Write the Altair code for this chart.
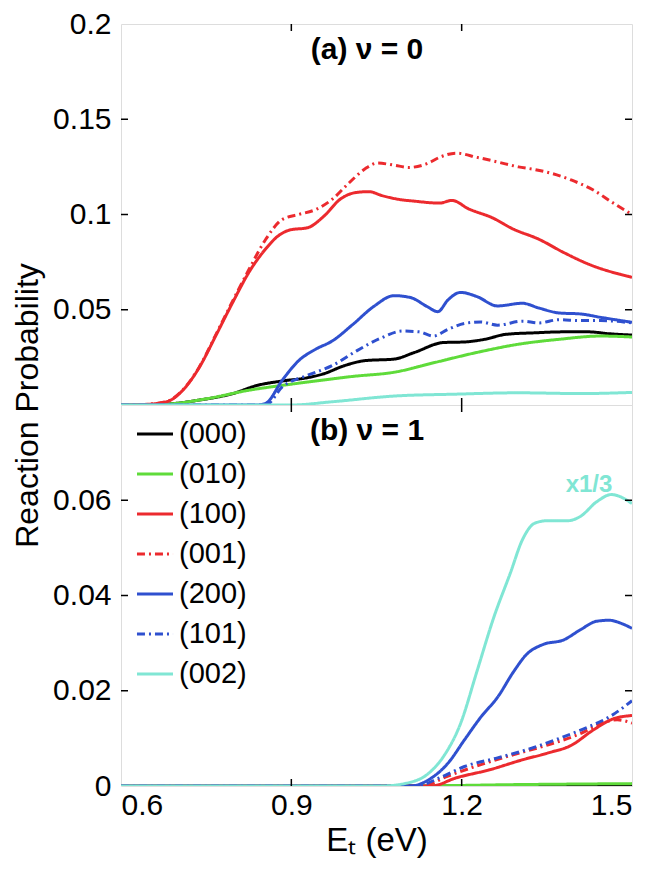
import altair as alt
import pandas as pd

FONT = "Liberation Sans"

SERIES = ["(000)", "(010)", "(100)", "(001)", "(200)", "(101)", "(002)"]
COLORS = ["#000000", "#5fdb3a", "#ec2a2e", "#ec2a2e", "#2f50cf", "#2f50cf", "#80e6d4"]
DASHES = [[1, 0], [1, 0], [1, 0], [8, 4, 2, 4], [1, 0], [8, 4, 2, 4], [1, 0]]

XTICKS = [0.6, 0.9, 1.2, 1.5]
XINNER = [0.9, 1.2]
YTICKS_A = [0.05, 0.1, 0.15, 0.2]
YINNER_A = [0.05, 0.1, 0.15]
YTICKS_B = [0, 0.02, 0.04, 0.06]
YINNER_B = [0.02, 0.04, 0.06]

# ---- panel (a) v = 0 ----
A000_E = [0.6, 0.68, 0.738, 0.797, 0.84, 0.884, 0.928, 0.957, 0.994, 1.03, 1.081, 1.117, 1.168, 1.205, 1.241, 1.278, 1.329, 1.38, 1.423, 1.46, 1.5]
A000_P = [0, 0.0005, 0.0026, 0.006, 0.0103, 0.0126, 0.0143, 0.0164, 0.0207, 0.0233, 0.0241, 0.0276, 0.0328, 0.0331, 0.0345, 0.0371, 0.0379, 0.0384, 0.0384, 0.0374, 0.0367]
A010_E = [0.6, 0.68, 0.753, 0.826, 0.884, 0.943, 1.008, 1.081, 1.154, 1.227, 1.3, 1.372, 1.445, 1.5]
A010_P = [0, 0.0005, 0.0034, 0.0078, 0.0103, 0.0126, 0.015, 0.0172, 0.0224, 0.0276, 0.0319, 0.0345, 0.0362, 0.0357]
A100_E = [0.6, 0.636, 0.68, 0.709, 0.738, 0.768, 0.797, 0.826, 0.855, 0.877, 0.899, 0.928, 0.957, 0.986, 1.015, 1.037, 1.059, 1.088, 1.117, 1.161, 1.183, 1.212, 1.256, 1.289, 1.336, 1.38, 1.423, 1.5]
A100_P = [0, 0.0002, 0.0017, 0.0078, 0.0198, 0.037, 0.054, 0.070, 0.082, 0.0888, 0.092, 0.093, 0.099, 0.108, 0.1116, 0.112, 0.110, 0.108, 0.107, 0.106, 0.1074, 0.103, 0.098, 0.0926, 0.087, 0.080, 0.074, 0.067]
A001_E = [0.6, 0.636, 0.68, 0.709, 0.738, 0.768, 0.797, 0.826, 0.855, 0.884, 0.913, 0.943, 0.972, 1.001, 1.03, 1.052, 1.081, 1.107, 1.139, 1.161, 1.19, 1.227, 1.263, 1.3, 1.329, 1.358, 1.394, 1.431, 1.467, 1.5]
A001_P = [0, 0.0002, 0.0018, 0.008, 0.020, 0.0375, 0.0548, 0.0715, 0.087, 0.0974, 0.100, 0.1026, 0.108, 0.1164, 0.124, 0.127, 0.1259, 0.1247, 0.1267, 0.130, 0.1322, 0.130, 0.1276, 0.125, 0.1236, 0.1216, 0.118, 0.113, 0.106, 0.100]
A200_E = [0.6, 0.84, 0.855, 0.884, 0.913, 0.943, 0.972, 1.008, 1.045, 1.081, 1.11, 1.139, 1.158, 1.176, 1.198, 1.227, 1.263, 1.307, 1.336, 1.372, 1.409, 1.445, 1.5]
A200_P = [0, 0, 0.0009, 0.013, 0.0233, 0.0293, 0.0336, 0.0422, 0.0517, 0.0574, 0.0564, 0.0517, 0.049, 0.0552, 0.0591, 0.0569, 0.052, 0.0534, 0.0509, 0.0483, 0.0478, 0.046, 0.0434]
A101_E = [0.6, 0.855, 0.884, 0.928, 0.972, 1.015, 1.059, 1.096, 1.125, 1.15, 1.176, 1.205, 1.234, 1.263, 1.307, 1.336, 1.372, 1.409, 1.445, 1.5]
A101_P = [0, 0, 0.0095, 0.0155, 0.0207, 0.0284, 0.0353, 0.0388, 0.0384, 0.0362, 0.0397, 0.0428, 0.0436, 0.0419, 0.044, 0.0431, 0.0448, 0.0443, 0.0443, 0.0431]
A002_E = [0.6, 0.899, 0.972, 1.081, 1.19, 1.3, 1.409, 1.5]
A002_P = [0, 0, 0.0017, 0.0047, 0.0057, 0.0064, 0.006, 0.0066]

# ---- panel (b) v = 1 ----
B000_E = [0.6, 1.5]
B000_P = [0, 0]
B010_E = [0.6, 1.1, 1.3, 1.5]
B010_P = [0, 0, 0.0003, 0.0005]
B100_E = [0.6, 1.147, 1.19, 1.249, 1.307, 1.351, 1.394, 1.431, 1.467, 1.5]
B100_P = [0, 0, 0.0017, 0.0034, 0.0055, 0.0069, 0.0086, 0.0117, 0.0141, 0.0148]
B001_E = [0.6, 1.13, 1.176, 1.234, 1.292, 1.351, 1.409, 1.445, 1.474, 1.5]
B001_P = [0, 0, 0.0021, 0.0045, 0.0066, 0.0086, 0.011, 0.0131, 0.0139, 0.0132]
B200_E = [0.6, 1.11, 1.147, 1.176, 1.205, 1.234, 1.263, 1.292, 1.314, 1.343, 1.38, 1.409, 1.438, 1.46, 1.482, 1.5]
B200_P = [0, 0, 0.0017, 0.0048, 0.0097, 0.0145, 0.0186, 0.0241, 0.0276, 0.0297, 0.0307, 0.0328, 0.0346, 0.0348, 0.0341, 0.0331]
B101_E = [0.6, 1.12, 1.161, 1.205, 1.263, 1.322, 1.372, 1.423, 1.46, 1.5]
B101_P = [0, 0, 0.0017, 0.0041, 0.0059, 0.0079, 0.010, 0.0124, 0.0145, 0.0179]
B002_E = [0.6, 1.059, 1.103, 1.139, 1.168, 1.198, 1.227, 1.256, 1.286, 1.307, 1.329, 1.351, 1.387, 1.409, 1.438, 1.464, 1.482, 1.5]
B002_P = [0, 0, 0.0006, 0.0024, 0.0062, 0.0131, 0.0241, 0.0352, 0.0448, 0.0517, 0.0552, 0.0557, 0.0557, 0.0566, 0.0597, 0.0612, 0.0606, 0.0593]

PANEL_A = [(A000_E, A000_P), (A010_E, A010_P), (A100_E, A100_P), (A001_E, A001_P),
           (A200_E, A200_P), (A101_E, A101_P), (A002_E, A002_P)]
PANEL_B = [(B000_E, B000_P), (B010_E, B010_P), (B100_E, B100_P), (B001_E, B001_P),
           (B200_E, B200_P), (B101_E, B101_P), (B002_E, B002_P)]


def to_df(panel):
    rows = []
    for name, (es, ps) in zip(SERIES, panel):
        for e, p in zip(es, ps):
            rows.append({"series": name, "E": e, "P": p})
    return pd.DataFrame(rows)


W = 511
H = 381
TL = 7  # inner tick length


def panel(df, ymax, yticks, yinner, bottom, label, legend):
    xs = alt.Scale(domain=[0.6, 1.5], nice=False, zero=False)
    ys = alt.Scale(domain=[0, ymax], nice=False, zero=False)
    xaxis = alt.Axis(orient="bottom", values=XTICKS, labels=bottom, ticks=False, domain=False, grid=False,
                     format="~g", labelFontSize=30, labelPadding=4, labelColor="black",
                     title=("Eₜ (eV)" if bottom else ""), titleFontSize=33, titleFontWeight="normal",
                     titlePadding=4, titleColor="black")
    yargs = dict(orient="left", values=yticks, ticks=False, domain=False, grid=False, format="~g",
                 labelFontSize=30, labelPadding=10, labelColor="black")
    if not bottom:
        yargs.update(title="Reaction Probability", titleFontSize=32, titleFontWeight="normal",
                     titleY=H, titlePadding=8, titleColor="black")
    else:
        yargs.update(title="")
    yaxis = alt.Axis(**yargs)
    if legend:
        leg = alt.Legend(orient="none", legendX=14, legendY=9, title=None, symbolType="stroke",
                         symbolSize=1300, symbolStrokeWidth=3, labelFontSize=29, labelFont=FONT,
                         labelOffset=4, rowPadding=5, padding=0, labelColor="black")
    else:
        leg = None
    main = alt.Chart(df).mark_line(strokeWidth=3, interpolate="monotone", clip=True).encode(
        x=alt.X("E:Q", scale=xs, axis=xaxis),
        y=alt.Y("P:Q", scale=ys, axis=yaxis),
        color=alt.Color("series:N", scale=alt.Scale(domain=SERIES, range=COLORS), legend=leg),
        strokeDash=alt.StrokeDash("series:N", scale=alt.Scale(domain=SERIES, range=DASHES), legend=leg),
    )
    ydf = pd.DataFrame({"v": yinner})
    xdf = pd.DataFrame({"v": XINNER})
    rule = dict(color="black", strokeWidth=1.5)
    yl = alt.Chart(ydf).mark_rule(**rule).encode(
        y=alt.Y("v:Q", scale=ys, axis=yaxis), x=alt.value(0), x2=alt.value(TL))
    yr = alt.Chart(ydf).mark_rule(**rule).encode(
        y=alt.Y("v:Q", scale=ys, axis=yaxis), x=alt.value(W - TL), x2=alt.value(W))
    xt = alt.Chart(xdf).mark_rule(**rule).encode(
        x=alt.X("v:Q", scale=xs, axis=xaxis), y=alt.value(0), y2=alt.value(TL))
    xb = alt.Chart(xdf).mark_rule(**rule).encode(
        x=alt.X("v:Q", scale=xs, axis=xaxis), y=alt.value(H - TL), y2=alt.value(H))
    lab = alt.Chart(pd.DataFrame({"t": [label]})).mark_text(
        font=FONT, fontSize=30, fontWeight="bold", color="black", align="center", baseline="middle"
    ).encode(text="t:N", x=alt.value(246), y=alt.value(26))
    layers = [main, yl, yr, xt, xb, lab]
    if bottom:
        ann = alt.Chart(pd.DataFrame({"t": ["x1/3"]})).mark_text(
            font=FONT, fontSize=24, fontWeight="bold", color="#80e6d4", align="center", baseline="middle"
        ).encode(text="t:N", x=alt.value(468), y=alt.value(80))
        layers.append(ann)
    return alt.layer(*layers).properties(width=W, height=H)


top = panel(to_df(PANEL_A), 0.2, YTICKS_A, YINNER_A, False, "(a) ν = 0", False)
bot = panel(to_df(PANEL_B), 0.08, YTICKS_B, YINNER_B, True, "(b) ν = 1", True)

chart = alt.vconcat(top, bot, spacing=0, bounds="flush").resolve_legend(
    color="independent", strokeDash="independent"
).properties(
    padding={"left": 3, "top": 0, "right": 5, "bottom": 0}
).configure_view(
    stroke="black", strokeWidth=2
).configure_axis(
    labelFont=FONT, titleFont=FONT
).configure(background="white")

chart.save("out.html", embed_options={"renderer": "svg", "actions": False})
